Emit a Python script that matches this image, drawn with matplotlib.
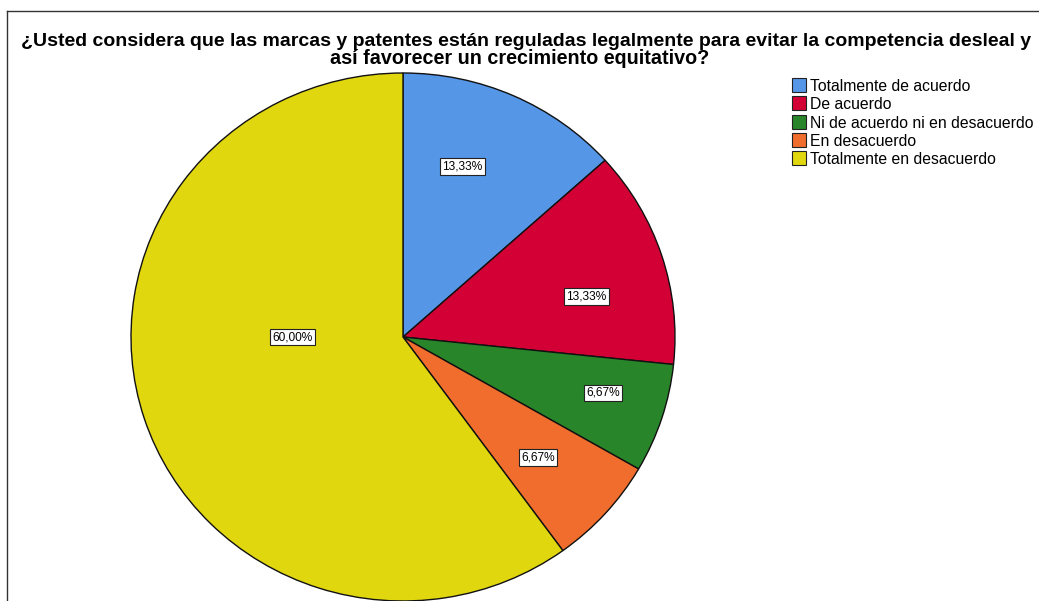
import matplotlib
matplotlib.use("Agg")
import matplotlib.pyplot as plt
from matplotlib.patches import Rectangle
from matplotlib.lines import Line2D

plt.rcParams['font.family'] = ['Liberation Sans', 'DejaVu Sans']

title_lines = ["¿Usted considera que las marcas y patentes están reguladas legalmente para evitar la competencia desleal y",
               "así favorecer un crecimiento equitativo?"]
categories = ["Totalmente de acuerdo", "De acuerdo", "Ni de acuerdo ni en desacuerdo",
              "En desacuerdo", "Totalmente en desacuerdo"]
percentages = [13.33, 13.33, 6.67, 6.67, 60.00]
pct_labels = ["13,33%", "13,33%", "6,67%", "6,67%", "60,00%"]
colors = ["#5596E6", "#D20034", "#28852A", "#F06D2D", "#E1D70F"]
# label positions in pie (unit-radius) coordinates
label_pos = [(0.217, 0.646), (0.673, 0.152), (0.735, -0.212), (0.496, -0.455), (-0.408, 0.0)]

W, H = 1039, 601
fig = plt.figure(figsize=(W / 100, H / 100), dpi=100)

# frame lines
fig.add_artist(Line2D([6.5 / W, 6.5 / W], [0, 1 - 11 / H], color="#333333", lw=1))
fig.add_artist(Line2D([6.5 / W, 1], [1 - 11 / H, 1 - 11 / H], color="#333333", lw=1))

cx, cy, rx, ry = 403, 337, 272, 264
ax = fig.add_axes([(cx - rx) / W, (H - cy - ry) / H, 2 * rx / W, 2 * ry / H])
wedges, _ = ax.pie(percentages, colors=colors, startangle=90, counterclock=False,
                   wedgeprops=dict(edgecolor="#111111", linewidth=1.0))
ax.set_aspect('auto')
ax.set_xlim(-1, 1)
ax.set_ylim(-1, 1)
for w in wedges:
    w.set_clip_on(False)

for (x, y), lab in zip(label_pos, pct_labels):
    ax.text(x, y, lab, ha='center', va='center', fontsize=8.6, color='black',
            bbox=dict(boxstyle='square,pad=0.2', facecolor='white', edgecolor='#222222', linewidth=0.8))

fig.text(526 / W, 1 - 46 / H, title_lines[0], ha='center', va='baseline',
         fontsize=14, fontweight='bold')
fig.text(520 / W, 1 - 64.5 / H, title_lines[1], ha='center', va='baseline',
         fontsize=14.2, fontweight='bold')

# legend (manual layout)
for i, (c, lab) in enumerate(zip(colors, categories)):
    yc = 85 + 18.3 * i
    fig.add_artist(Rectangle((792 / W, 1 - (yc + 7) / H), 14 / W, 14 / H,
                             transform=fig.transFigure, facecolor=c,
                             edgecolor='#222222', linewidth=0.8))
    fig.text(810 / W, 1 - yc / H, lab, ha='left', va='center_baseline', fontsize=11.3)

fig.savefig("out.png", dpi=100)
